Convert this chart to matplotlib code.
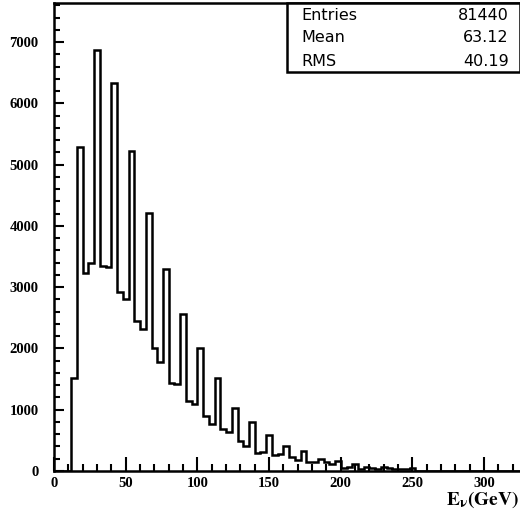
import matplotlib
matplotlib.use('Agg')
import matplotlib.pyplot as plt
import matplotlib.patches as patches
import numpy as np

# ---- data (bin width 4 GeV, starting at 0) ----
bin_width = 4
counts = [0, 0, 0,
          1520, 5290, 3240, 3390, 6870, 3350, 3330, 6330, 2930, 2805,
          5220, 2455, 2310, 4210, 2005, 1785, 3300, 1440, 1420, 2560,
          1150, 1090, 2005, 905, 770, 1525, 685, 630, 1025, 495,
          410, 800, 300, 315, 590, 265, 275, 408, 225, 175,
          327, 150, 141, 196, 152, 112, 169, 50, 60, 114,
          38, 60, 45, 40, 66, 50, 30, 40, 25, 45]
counts = counts + [0] * (100 - len(counts))
edges = np.arange(len(counts) + 1) * bin_width

stats_names = ['Entries', 'Mean', 'RMS']
stats_values = ['81440', '63.12', '40.19']

W, H = 520, 517
fig = plt.figure(figsize=(W / 100, H / 100), dpi=100)
plt.rcParams['mathtext.fontset'] = 'stix'

# axes placed in pixel coordinates of the reference
x0, x1 = 54, 520
y0, y1 = 471, 3
ax = fig.add_axes([x0 / W, 1 - y0 / H, (x1 - x0) / W, (y0 - y1) / H])

ax.stairs(counts, edges, color='black', linewidth=1.8)

ax.set_xlim(0, 325)
ax.set_ylim(0, 7640)

for side in ['left', 'bottom', 'top']:
    ax.spines[side].set_linewidth(1.8)
ax.spines['right'].set_visible(False)

ax.set_xticks(np.arange(0, 326, 50))
ax.set_xticks(np.arange(0, 326, 10), minor=True)
ax.set_yticks(np.arange(0, 7001, 1000))
ax.set_yticks(np.arange(0, 7601, 200), minor=True)

ax.tick_params(axis='both', which='both', direction='in', width=1.5,
               top=False, right=False)
ax.tick_params(axis='x', which='major', length=10, pad=4)
ax.tick_params(axis='x', which='minor', length=5)
ax.tick_params(axis='y', which='major', length=7, pad=11)
ax.tick_params(axis='y', which='minor', length=4)

for lab in ax.get_xticklabels() + ax.get_yticklabels():
    lab.set_fontfamily('Liberation Serif')
    lab.set_fontweight('bold')
    lab.set_fontsize(10.5)

fig.text(519 / W, 1 - 500 / H, r'$\mathbf{E_{\nu}(GeV)}$', ha='right',
         va='center', fontsize=14)

# stats box (ROOT style)
bl, bb, bt = 287 / W, 1 - 72 / H, 1 - 3 / H
box = patches.Rectangle((bl, bb), 1.0 - bl, bt - bb, transform=fig.transFigure,
                        facecolor='white', edgecolor='black', linewidth=1.8,
                        zorder=5)
fig.add_artist(box)
row_y = [15, 38, 62]
for name, val, ry in zip(stats_names, stats_values, row_y):
    fig.text(301 / W, 1 - ry / H, name, ha='left', va='center',
             fontsize=11.5, fontfamily='DejaVu Sans', zorder=6)
    fig.text(509 / W, 1 - ry / H, val, ha='right', va='center',
             fontsize=11.5, fontfamily='DejaVu Sans', zorder=6)

fig.savefig('out.png', dpi=100)
